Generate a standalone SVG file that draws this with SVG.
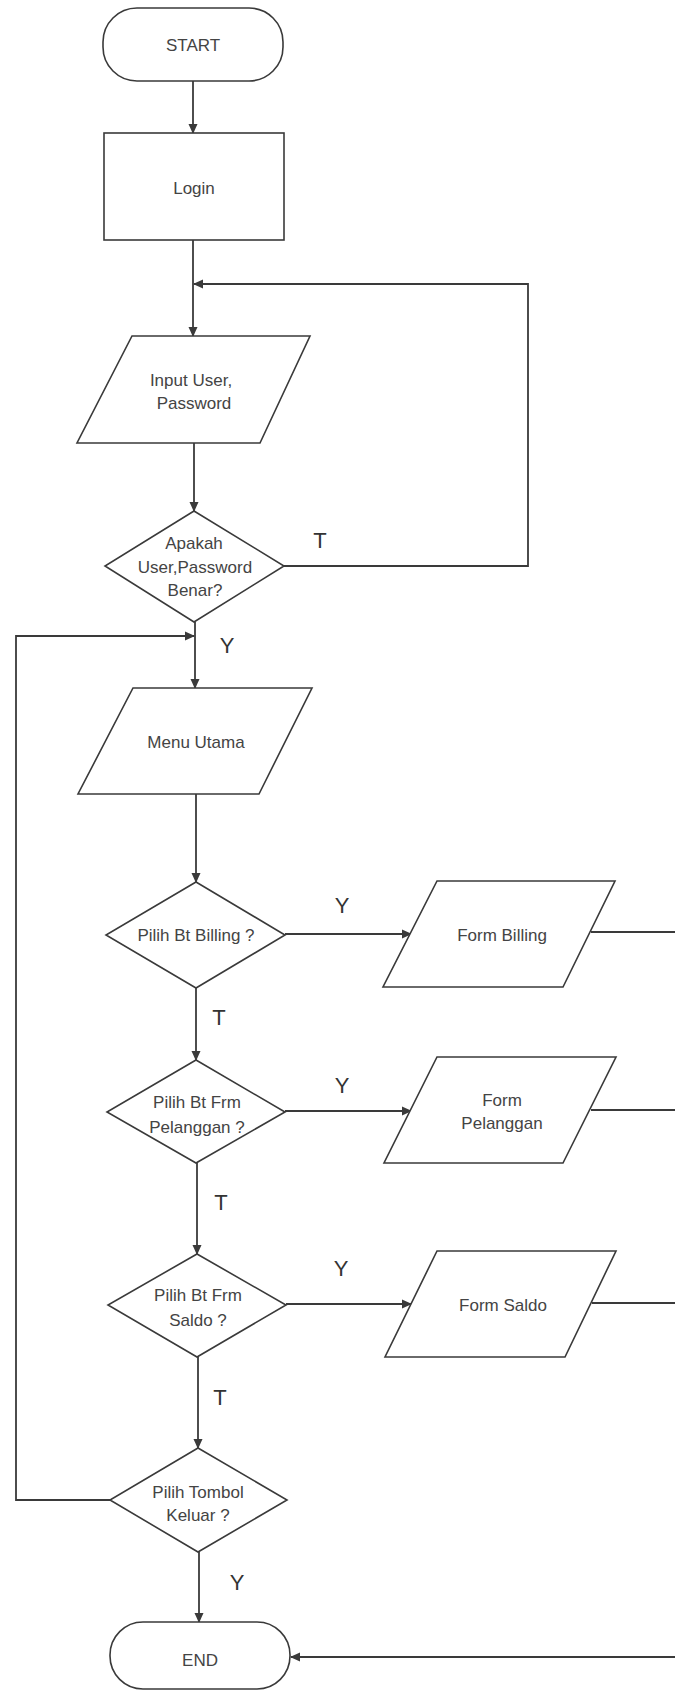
<svg xmlns="http://www.w3.org/2000/svg" width="675" height="1692" viewBox="0 0 675 1692">
<style>
.s{fill:#fff;stroke:#3a3a3a;stroke-width:1.6}
.c{fill:none;stroke:#3a3a3a;stroke-width:1.8}
.t{font-family:"Liberation Sans",Arial,sans-serif;font-size:17px;fill:#444;text-anchor:middle}
.l{font-family:"Liberation Sans",Arial,sans-serif;font-size:22px;fill:#333;text-anchor:middle}
</style>
<defs>
<marker id="a" markerWidth="10" markerHeight="10" refX="9" refY="5" orient="auto" markerUnits="userSpaceOnUse">
<path d="M0,0.5 L10,5 L0,9.5 Z" fill="#3a3a3a"/>
</marker>
</defs>
<rect width="675" height="1692" fill="#fff"/>
<g id="connectors">
<path class="c" d="M193,81 V133" marker-end="url(#a)"/>
<path class="c" d="M193,240 V336" marker-end="url(#a)"/>
<path class="c" d="M284,566 H528 V284 H194" marker-end="url(#a)"/>
<path class="c" d="M194,443 V511" marker-end="url(#a)"/>
<path class="c" d="M195,622 V688" marker-end="url(#a)"/>
<path class="c" d="M110,1500 H16 V636 H194" marker-end="url(#a)"/>
<path class="c" d="M196,794 V882" marker-end="url(#a)"/>
<path class="c" d="M196,988 V1060" marker-end="url(#a)"/>
<path class="c" d="M197,1163 V1254" marker-end="url(#a)"/>
<path class="c" d="M198,1357 V1448" marker-end="url(#a)"/>
<path class="c" d="M199,1552 V1622" marker-end="url(#a)"/>
<path class="c" d="M285,934 H411" marker-end="url(#a)"/>
<path class="c" d="M285,1111 H411" marker-end="url(#a)"/>
<path class="c" d="M286,1304 H411" marker-end="url(#a)"/>
<path class="c" d="M591,932 H675"/>
<path class="c" d="M591,1110 H675"/>
<path class="c" d="M592,1303 H675"/>
<path class="c" d="M675,1657 H291" marker-end="url(#a)"/>
<text class="l" x="320" y="548">T</text>
<text class="l" x="227" y="653">Y</text>
<text class="l" x="342" y="913">Y</text>
<text class="l" x="219" y="1025">T</text>
<text class="l" x="342" y="1093">Y</text>
<text class="l" x="221" y="1210">T</text>
<text class="l" x="341" y="1276">Y</text>
<text class="l" x="220" y="1405">T</text>
<text class="l" x="237" y="1590">Y</text>
</g>
<g id="start">
<rect class="s" x="103" y="8" width="180" height="73" rx="34" ry="34"/>
<text class="t" x="193" y="51">START</text>
</g>
<g id="login">
<rect class="s" x="104" y="133" width="180" height="107"/>
<text class="t" x="194" y="194">Login</text>
</g>
<g id="input">
<polygon class="s" points="132,336 310,336 260,443 77,443"/>
<text class="t" x="191" y="386">Input User,</text>
<text class="t" x="194" y="409">Password</text>
</g>
<g id="cek-login">
<polygon class="s" points="194,511 284,566 194,622 105,566"/>
<text class="t" x="194" y="549">Apakah</text>
<text class="t" x="195" y="573">User,Password</text>
<text class="t" x="195" y="596">Benar?</text>
</g>
<g id="menu">
<polygon class="s" points="133,688 312,688 259,794 78,794"/>
<text class="t" x="196" y="748">Menu Utama</text>
</g>
<g id="pilih-billing">
<polygon class="s" points="196,882 285,935 196,988 106,935"/>
<text class="t" x="196" y="941">Pilih Bt Billing ?</text>
</g>
<g id="form-billing">
<polygon class="s" points="437,881 615,881 563,987 383,987"/>
<text class="t" x="502" y="941">Form Billing</text>
</g>
<g id="pilih-pelanggan">
<polygon class="s" points="196,1060 285,1112 196,1163 107,1112"/>
<text class="t" x="197" y="1108">Pilih Bt Frm</text>
<text class="t" x="197" y="1133">Pelanggan ?</text>
</g>
<g id="form-pelanggan">
<polygon class="s" points="437,1057 616,1057 563,1163 384,1163"/>
<text class="t" x="502" y="1106">Form</text>
<text class="t" x="502" y="1129">Pelanggan</text>
</g>
<g id="pilih-saldo">
<polygon class="s" points="197,1254 286,1305 197,1357 108,1305"/>
<text class="t" x="198" y="1301">Pilih Bt Frm</text>
<text class="t" x="198" y="1326">Saldo ?</text>
</g>
<g id="form-saldo">
<polygon class="s" points="437,1251 616,1251 565,1357 385,1357"/>
<text class="t" x="503" y="1311">Form Saldo</text>
</g>
<g id="pilih-keluar">
<polygon class="s" points="198,1448 287,1500 198,1552 110,1500"/>
<text class="t" x="198" y="1498">Pilih Tombol</text>
<text class="t" x="198" y="1521">Keluar ?</text>
</g>
<g id="end">
<rect class="s" x="110" y="1622" width="180" height="67" rx="33" ry="33"/>
<text class="t" x="200" y="1666">END</text>
</g>
</svg>
